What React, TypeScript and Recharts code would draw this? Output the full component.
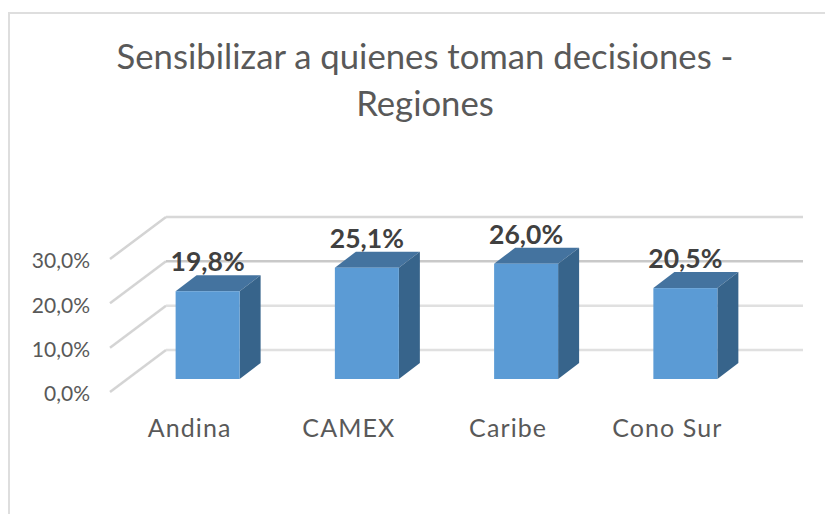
import React from 'react';
import { BarChart, Bar, CartesianGrid, XAxis, YAxis, LabelList } from 'recharts';

const regions = ['Andina', 'CAMEX', 'Caribe', 'Cono Sur'];
const shares = [19.8, 25.1, 26.0, 20.5];
const percentTicks = [0, 10, 20, 30];
const titleLines = ['Sensibilizar a quienes toman decisiones -', 'Regiones'];

const chartData = regions.map((region, i) => ({ region, share: shares[i] }));

const FONT = 'Lato, "Open Sans", sans-serif';
const TEXT = '#595959';

// pseudo 3D offsets from the front plane of the axes
const WALL_DX = 56;
const WALL_DY = -42;
const BAR_DX = 18;
const BAR_DY = -13;
const DEPTH_X = 21;
const DEPTH_Y = -16;

const pct = (v: number) => `${v.toFixed(1).replace('.', ',')}%`;

const Box = (props: any) => {
  const { x, y, width, height } = props;
  const l = x + BAR_DX;
  const t = y + BAR_DY;
  const r = l + width;
  const b = t + height;
  return (
    <g>
      <polygon
        points={`${l},${t} ${l + DEPTH_X},${t + DEPTH_Y} ${r + DEPTH_X},${t + DEPTH_Y} ${r},${t}`}
        fill="#44739f"
      />
      <polygon
        points={`${r},${t} ${r + DEPTH_X},${t + DEPTH_Y} ${r + DEPTH_X},${b + DEPTH_Y} ${r},${b}`}
        fill="#37648b"
      />
      <rect x={l} y={t} width={width} height={height} fill="#5b9bd5" />
    </g>
  );
};

const GridLine = (props: any) => {
  const { x1, x2, y1, index } = props;
  const color = index === 2 ? '#c9c9c9' : index === 3 ? '#d8d8d8' : '#e0e0e0';
  return (
    <g fill="none" stroke={color} strokeWidth={2.5}>
      <line x1={x1} y1={y1} x2={x1 + WALL_DX} y2={y1 + WALL_DY} stroke="#d4d4d4" />
      <line x1={x1 + WALL_DX} y1={y1 + WALL_DY} x2={x2 + WALL_DX} y2={y1 + WALL_DY} />
    </g>
  );
};

const BarLabel = (props: any) => {
  const { x, y, width, value } = props;
  return (
    <text
      x={x + width / 2 + BAR_DX}
      y={y + BAR_DY - 20}
      textAnchor="middle"
      fontFamily={FONT}
      fontSize={26.5}
      fontWeight={700}
      fill="#404040"
    >
      {pct(value)}
    </text>
  );
};

export default function App() {
  return (
    <div style={{ position: 'absolute', left: 0, top: 0, width: 825, height: 514, background: '#fff', overflow: 'hidden' }}>
      <div
        style={{
          position: 'absolute',
          left: 8,
          top: 12,
          width: 830,
          height: 520,
          border: '2px solid #dedede',
          boxSizing: 'border-box',
        }}
      />
      <div
        style={{
          position: 'absolute',
          left: 0,
          top: 32,
          width: 850,
          textAlign: 'center',
          fontFamily: FONT,
          fontSize: 34.7,
          lineHeight: '47px',
          color: TEXT,
        }}
      >
        {titleLines.map((line) => (
          <div key={line}>{line}</div>
        ))}
      </div>
      <div style={{ position: 'absolute', left: 0, top: 0 }}>
        <BarChart
          width={825}
          height={514}
          data={chartData}
          margin={{ top: 259, right: 78, bottom: 0, left: 0 }}
          barCategoryGap="29.9%"
        >
          <CartesianGrid vertical={false} horizontal={(p: any) => <GridLine {...p} />} />
          <XAxis
            dataKey="region"
            axisLine={false}
            tickLine={false}
            height={122}
            tick={{ fontFamily: FONT, fontSize: 25, fill: TEXT, letterSpacing: 1.1 }}
            dy={19}
          />
          <YAxis
            width={110}
            domain={[0, 30]}
            ticks={percentTicks}
            axisLine={false}
            tickLine={false}
            tickFormatter={pct}
            tick={{ fontFamily: FONT, fontSize: 21, fill: TEXT }}
            dx={-12}
            dy={2}
          />
          <Bar dataKey="share" shape={<Box />} isAnimationActive={false}>
            <LabelList dataKey="share" content={<BarLabel />} />
          </Bar>
        </BarChart>
      </div>
    </div>
  );
}
